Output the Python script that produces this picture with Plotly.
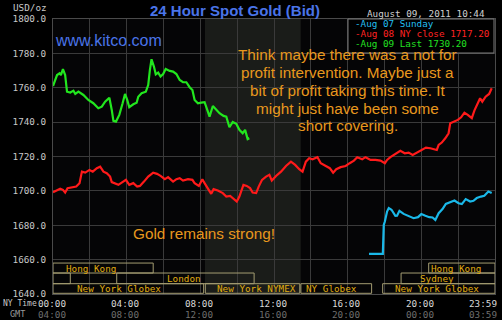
import plotly.graph_objects as go

# ---------------- data (hours NY time, USD/oz) ----------------
green_h = [0.00, 0.22, 0.36, 0.43, 0.54, 0.66, 0.76, 0.94, 1.11, 1.21, 1.38, 1.65, 1.92, 2.19, 2.46,
           2.65, 2.83, 3.06, 3.19, 3.28, 3.42, 3.60, 3.78, 3.91, 4.03, 4.14, 4.36, 4.54, 4.63, 4.81,
           5.04, 5.17, 5.26, 5.35, 5.48, 5.58, 5.71, 5.84, 5.98, 6.12, 6.34, 6.52, 6.70, 6.88, 7.06,
           7.24, 7.42, 7.57, 7.69, 7.87, 8.05, 8.23, 8.41, 8.50, 8.68, 8.86, 9.04, 9.26, 9.41, 9.58,
           9.76, 9.95, 10.12, 10.30, 10.43, 10.57, 10.66]
green_v = [1761.0, 1767.4, 1768.4, 1767.4, 1770.9, 1767.4, 1757.7, 1757.2, 1758.3, 1756.4, 1757.7,
           1755.8, 1752.9, 1751.0, 1748.1, 1749.0, 1751.9, 1754.2, 1747.1, 1740.7, 1740.3, 1744.2,
           1751.0, 1756.4, 1752.9, 1748.7, 1750.4, 1751.3, 1754.8, 1756.8, 1757.7, 1761.6, 1770.3,
           1776.6, 1772.3, 1767.8, 1768.8, 1766.5, 1768.0, 1770.9, 1769.8, 1769.4, 1768.0, 1764.5,
           1763.2, 1763.2, 1760.3, 1758.7, 1752.9, 1751.0, 1751.3, 1751.6, 1746.1, 1743.2, 1749.4,
           1747.5, 1745.2, 1743.6, 1743.2, 1737.0, 1740.1, 1739.0, 1735.5, 1733.5, 1735.5, 1730.1,
           1730.6]

red_h = [0.00, 0.22, 0.39, 0.54, 0.66, 0.79, 1.03, 1.26, 1.44, 1.57, 1.75, 1.98, 2.16, 2.38, 2.56,
         2.74, 2.92, 3.10, 3.19, 3.37, 3.55, 3.73, 3.96, 4.14, 4.36, 4.57, 4.72, 4.94, 5.17, 5.44,
         5.65, 5.84, 6.07, 6.25, 6.52, 6.70, 6.88, 7.06, 7.33, 7.57, 7.69, 7.92, 8.11, 8.23, 8.41,
         8.59, 8.72, 8.95, 9.22, 9.41, 9.62, 9.80, 9.98, 10.12, 10.22, 10.34, 10.52, 10.70, 10.84,
         11.03, 11.17, 11.35, 11.57, 11.75, 11.88, 12.11, 12.38, 12.65, 12.92, 13.15, 13.37, 13.55,
         13.73, 13.91, 14.09, 14.36, 14.54, 14.81, 15.03, 15.21, 15.38, 15.62, 15.89, 16.11, 16.34,
         16.52, 16.79, 16.97, 17.24, 17.51, 17.78, 18.02, 18.14, 18.32, 18.59, 18.86, 19.10, 19.31,
         19.53, 19.76, 20.03, 20.25, 20.49, 20.72, 20.84, 20.94, 21.11, 21.30, 21.48, 21.57, 21.75,
         21.98, 22.16, 22.34, 22.52, 22.74, 22.88, 23.01, 23.19, 23.31, 23.49, 23.68, 23.82]
red_v = [1699.2, 1700.2, 1701.2, 1700.6, 1699.0, 1701.6, 1702.1, 1702.5, 1704.5, 1711.2, 1710.6,
         1712.2, 1711.2, 1713.2, 1714.1, 1711.2, 1710.3, 1708.3, 1705.1, 1704.5, 1703.5, 1704.8,
         1706.4, 1703.5, 1704.5, 1702.5, 1702.9, 1705.4, 1708.3, 1710.6, 1709.9, 1708.7, 1706.8,
         1708.0, 1705.4, 1706.8, 1707.4, 1706.0, 1706.8, 1706.4, 1704.5, 1702.9, 1706.8, 1704.5,
         1701.0, 1698.3, 1701.0, 1700.2, 1698.7, 1696.7, 1697.1, 1695.3, 1693.8, 1696.7, 1699.6,
         1703.5, 1702.9, 1701.6, 1699.0, 1698.7, 1702.5, 1706.4, 1708.3, 1709.3, 1706.0, 1708.7,
         1711.2, 1714.5, 1717.0, 1715.1, 1712.6, 1711.2, 1717.0, 1719.0, 1718.4, 1719.6, 1716.1,
         1714.5, 1713.2, 1710.6, 1712.6, 1713.8, 1714.5, 1716.1, 1717.6, 1719.6, 1718.4, 1719.6,
         1718.0, 1718.0, 1717.6, 1716.1, 1718.0, 1719.6, 1721.5, 1723.3, 1721.9, 1722.3, 1720.9,
         1722.3, 1723.8, 1725.2, 1724.8, 1724.2, 1723.8, 1726.7, 1728.1, 1730.6, 1733.5, 1739.4,
         1740.3, 1741.3, 1742.8, 1745.5, 1744.2, 1742.3, 1746.7, 1749.4, 1753.9, 1751.9, 1754.8,
         1756.4, 1759.7]

cyan_h = [17.16, 17.91, 17.96, 18.02, 18.14, 18.23, 18.38, 18.59, 18.68, 18.81, 19.04, 19.31, 19.58,
          19.82, 20.00, 20.22, 20.43, 20.61, 20.76, 20.94, 21.15, 21.33, 21.57, 21.80, 22.02, 22.20,
          22.41, 22.65, 22.83, 23.01, 23.24, 23.42, 23.64, 23.82]
cyan_v = [1663.4, 1663.4, 1680.2, 1682.2, 1688.0, 1690.0, 1689.0, 1685.5, 1685.6, 1688.4, 1686.6,
          1685.5, 1684.1, 1684.7, 1686.5, 1685.5, 1684.7, 1684.5, 1683.1, 1687.0, 1689.4, 1692.4,
          1693.2, 1694.4, 1692.8, 1692.3, 1695.2, 1693.8, 1694.2, 1695.8, 1696.7, 1697.1, 1699.6,
          1698.7]

legend_labels = ["-Aug 07 Sunday", "-Aug 08 NY close 1717.20", "-Aug 09 Last 1730.20"]
legend_colors = ["#22bff0", "#ff2222", "#22e022"]

tick_hours = [0, 4, 8, 12, 16, 20, 24]
ny_labels = ["00:00", "04:00", "08:00", "12:00", "16:00", "20:00", "23:59"]
gmt_labels = ["04:00", "08:00", "12:00", "16:00", "20:00", "00:00", "03:59"]

# trading sessions: name, row, start hour, end hour, label hour
sess_names = ["Hong Kong", "Hong Kong", "", "London", "Sydney",
              "New York Globex", "New York NYMEX", "NY Globex", "New York Globex"]
sess_rows = [0, 0, 1, 1, 1, 2, 2, 2, 2]
sess_start = [0.0, 20.4, 0.0, 3.46, 18.9, 0.0, 8.27, 13.46, 17.9]
sess_end = [5.44, 24.0, 0.94, 10.92, 24.0, 8.18, 13.4, 17.3, 24.0]
sess_label = [2.07, 21.9, 0.5, 7.1, 20.85, 3.58, 11.05, 15.1, 20.83]
row_top = [1658.0, 1652.2, 1646.0]
row_bot = [1652.2, 1646.0, 1640.4]

shade_start, shade_end = 8.25, 13.45

note_lines = ["Think maybe there was a not for",
              "profit intervention. Maybe just a",
              "bit of profit taking this time. It",
              "might just have been some",
              "short covering."]

# ---------------- layout helpers ----------------
W, H = 502, 320
ML, MR, MT, MB = 53, 7, 19, 26
PW, PH = W - ML - MR, H - MT - MB


def px(x):
    return (x - ML) / PW


def py(y):
    return (H - MB - y) / PH


MONO = "DejaVu Sans Mono"
SANS = "Liberation Sans, Arial"
ORANGE = "#E8981E"
BLUE = "#4a74e8"


def note(x, y, text, font, xanchor="center", xref="paper", yref="paper", xshift=0):
    return dict(x=x, y=y, xref=xref, yref=yref, text=text, showarrow=False, xanchor=xanchor,
                yanchor="middle", xshift=xshift, font=font)


fig = go.Figure()
fig.add_trace(go.Scatter(x=red_h, y=red_v, mode="lines", line=dict(color="#ff1a1a", width=2.2)))
fig.add_trace(go.Scatter(x=cyan_h, y=cyan_v, mode="lines", line=dict(color="#1ab8e8", width=2.2)))
fig.add_trace(go.Scatter(x=green_h, y=green_v, mode="lines", line=dict(color="#22e61e", width=2.2)))

shapes = [dict(type="rect", xref="x", yref="paper", x0=shade_start, x1=shade_end, y0=0, y1=1,
               fillcolor="#1a1c19", line=dict(width=0), layer="below")]
ann = []

# session boxes
for name, r, s, e, lx in zip(sess_names, sess_rows, sess_start, sess_end, sess_label):
    shapes.append(dict(type="rect", xref="x", yref="y", x0=s, x1=e, y0=row_bot[r], y1=row_top[r],
                       line=dict(color="#a49d72", width=1), fillcolor="rgba(0,0,0,0)"))
    if name:
        ann.append(note(lx, (row_top[r] + row_bot[r]) / 2, name,
                        dict(family=MONO, size=9.3, color="#e0ac10"), xref="x", yref="y"))

# legend box
shapes.append(dict(type="rect", xref="paper", yref="paper", x0=px(348), x1=px(494), y0=py(53), y1=py(19),
                   fillcolor="#000000", line=dict(color="#7a7a7a", width=1)))
for i, (t, c) in enumerate(zip(legend_labels, legend_colors)):
    ann.append(note(px(353), py(23.8 + 10 * i), t, dict(family=MONO, size=9.3, color=c), xanchor="left"))

# x tick labels (NY time and GMT)
for i, (h, a, b) in enumerate(zip(tick_hours, ny_labels, gmt_labels)):
    last = i == len(tick_hours) - 1
    for txt, yy, col in ((a, 303, "#d8d8d8"), (b, 314, "#6e6e6e")):
        ann.append(note(h, py(yy), txt, dict(family=MONO, size=9.3, color=col), xref="x",
                        xanchor="right" if last else "center", xshift=4 if last else -1.5))
ann.append(note(px(1), py(303), "NY Time", dict(family=MONO, size=8, color="#c8c8c8"), xanchor="left"))
ann.append(note(px(8), py(314), "GMT", dict(family=MONO, size=8.5, color="#9a9a9a"), xanchor="left"))

# header texts
ann.append(note(px(48.5), py(7.5), "USD/oz", dict(family=MONO, size=9.3, color="#c8c8c8"), xanchor="right"))
ann.append(note(px(235), py(10.5), "<b>24 Hour Spot Gold (Bid)</b>", dict(family=SANS, size=15, color=BLUE)))
ann.append(note(px(487), py(13.5), "August 09, 2011 10:44", dict(family=MONO, size=9.3, color="#d0d0d0"),
                xanchor="right"))
ann.append(note(px(53), py(40), "www.kitco.com", dict(family=SANS, size=16, color=BLUE), xanchor="left"))

# orange notes
for i, t in enumerate(note_lines):
    ann.append(note(px(347.5), py(54 + 18 * i), t, dict(family=SANS, size=15.3, color=ORANGE)))
ann.append(note(px(204), py(233), "Gold remains strong!", dict(family=SANS, size=15.3, color=ORANGE)))

fig.update_layout(width=W, height=H, margin=dict(l=ML, r=MR, t=MT, b=MB),
                  paper_bgcolor="#000000", plot_bgcolor="#050506", showlegend=False,
                  shapes=shapes, annotations=ann)
fig.update_xaxes(range=[0, 24], tickvals=list(range(0, 25, 2)), showticklabels=False,
                 showgrid=True, gridcolor="#3a3a3a", gridwidth=1, zeroline=False,
                 showline=True, linecolor="#4a4a4a", mirror=True, fixedrange=True)
fig.update_yaxes(range=[1640, 1800], dtick=20, tickformat=".1f", showgrid=True, gridcolor="#3a3a3a",
                 gridwidth=1, zeroline=False, showline=True, linecolor="#4a4a4a", mirror=True,
                 ticks="", ticklabelstandoff=4,
                 tickfont=dict(family=MONO, size=9.3, color="#c8c8c8"), fixedrange=True)

fig.write_html("out.html", config={"displayModeBar": False})
